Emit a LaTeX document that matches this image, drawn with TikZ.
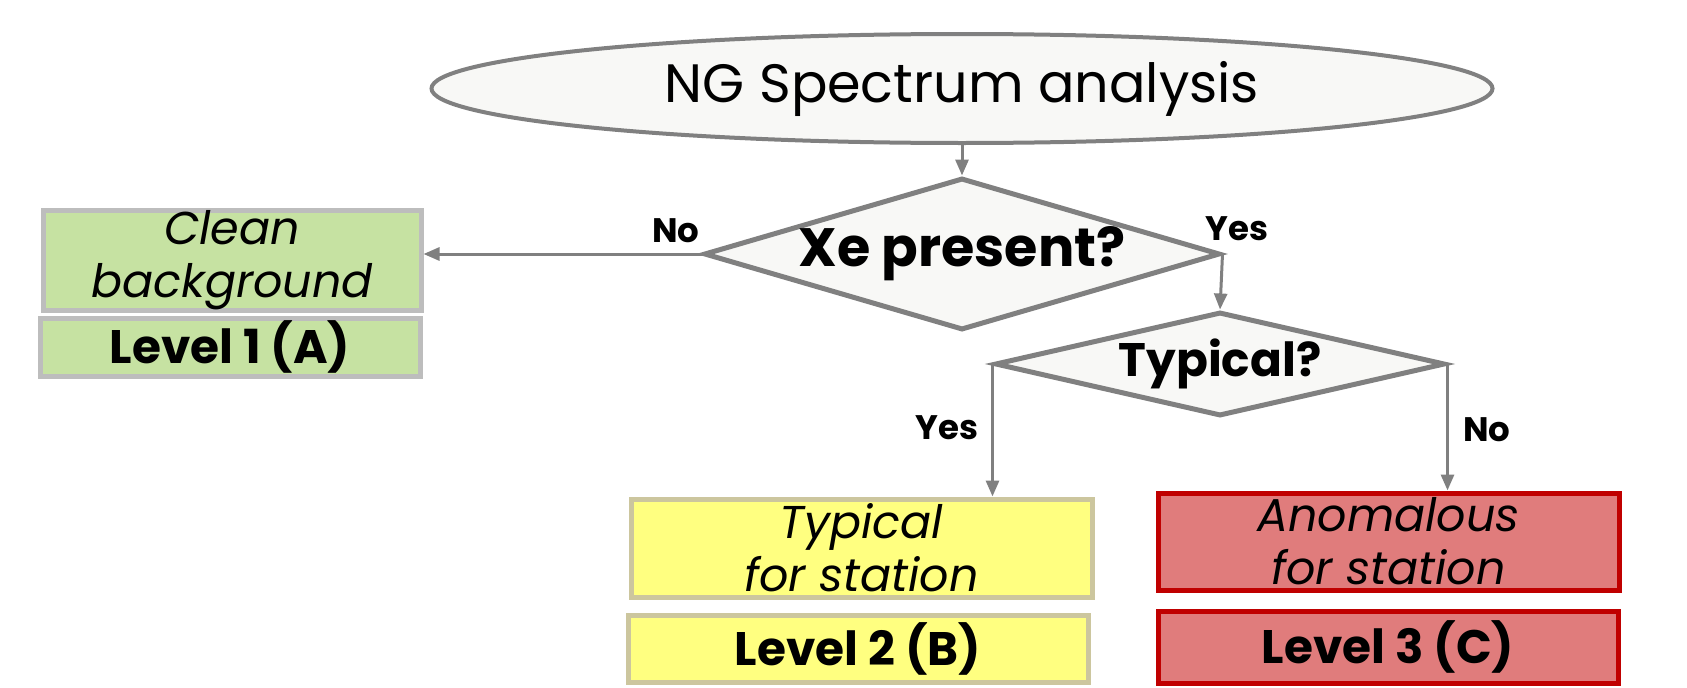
\documentclass[tikz,border=0pt]{standalone}
\usepackage{fontspec}
\setmainfont{Poppins}
\usetikzlibrary{shapes.geometric,arrows.meta}
\definecolor{lineg}{HTML}{808080}
\definecolor{shapefill}{HTML}{F8F8F6}
\definecolor{greenfill}{HTML}{C6E2A2}
\definecolor{greenline}{HTML}{BDBDBD}
\definecolor{yellowfill}{HTML}{FFFF80}
\definecolor{yellowline}{HTML}{CCC69E}
\definecolor{redfill}{HTML}{E07C7C}
\definecolor{redline}{HTML}{C00000}
\begin{document}
\begin{tikzpicture}[x=1pt,y=-1pt,
  startn/.style={ellipse,draw=lineg,fill=shapefill,line width=4pt,inner sep=0pt,
    minimum width=1061pt,minimum height=109pt,font=\fontsize{54}{60}\selectfont},
  dec/.style={diamond,draw=lineg,fill=shapefill,line width=5pt,inner sep=0pt},
  boxbase/.style={rectangle,line width=5pt,inner sep=0pt,align=center},
  gbox/.style={boxbase,draw=greenline,fill=greenfill},
  ybox/.style={boxbase,draw=yellowline,fill=yellowfill},
  rbox/.style={boxbase,draw=redline,fill=redfill},
  desc/.style={font=\itshape\fontsize{46}{53}\selectfont},
  lvl/.style={font=\bfseries\fontsize{47}{50}\selectfont},
  lbl/.style={font=\bfseries\fontsize{34}{38}\selectfont,inner sep=0pt},
  arr/.style={draw=lineg,line width=3pt,-{Triangle[length=16pt,width=13pt]}}
]
\useasboundingbox (0,0) rectangle (1687,688);
\node[startn] (start) at (962,88.5) {NG Spectrum analysis};
\node[dec,aspect=3.39,minimum width=516pt,minimum height=152pt,
  font=\bfseries\fontsize{54}{58}\selectfont] (xe) at (962,254) {Xe present?};
\node[dec,aspect=4.33,minimum width=450pt,minimum height=104pt,
  font=\bfseries\fontsize{47}{50}\selectfont] (typ) at (1220,364) {Typical?};
\node[gbox,desc,minimum width=378pt,minimum height=97pt] (clean) at (232,260.5) {Clean\\background};
\node[gbox,lvl,minimum width=380pt,minimum height=58pt] (l1) at (230,347) {Level 1 (A)};
\node[ybox,desc,minimum width=461pt,minimum height=98pt] (typst) at (861.5,548) {Typical\\for station};
\node[ybox,lvl,minimum width=460pt,minimum height=67pt] (l2) at (858,648.5) {Level 2 (B)};
\node[rbox,desc,minimum width=461pt,minimum height=97pt] (anom) at (1388.5,541.5) {Anomalous\\for station};
\node[rbox,lvl,minimum width=460pt,minimum height=72pt] (l3) at (1388,647) {Level 3 (C)};
\draw[arr] (start.south) -- (xe.north);
\draw[arr] (xe.west) -- (clean.east |- xe.west);
\draw[arr] (xe.east) -- (typ.north);
\draw[arr] (typ.west) -- (typ.west |- typst.north);
\draw[arr] (typ.east) -- (typ.east |- anom.north);
\node[lbl] (lno1) at (676,231) {No};
\node[lbl] (lyes1) at (1237,229) {Yes};
\node[lbl] (lyes2) at (947,428) {Yes};
\node[lbl] (lno2) at (1487,430) {No};
\end{tikzpicture}
\end{document}
